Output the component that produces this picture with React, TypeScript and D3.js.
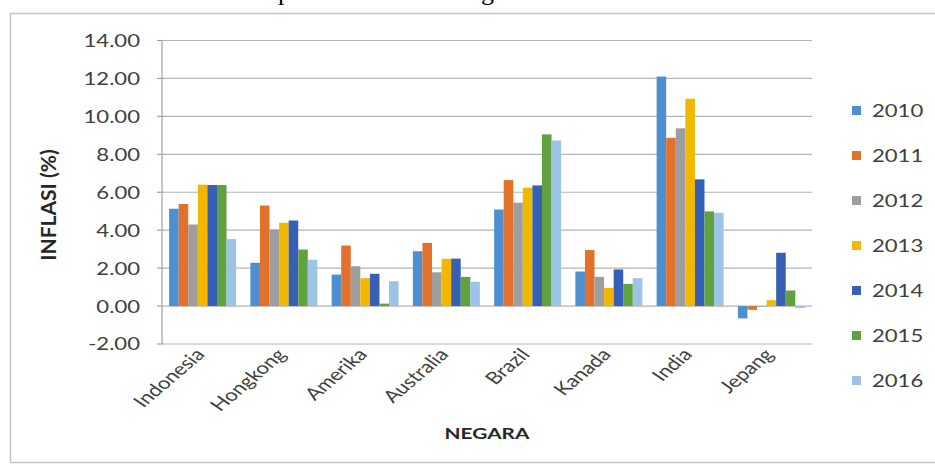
import React from "react";
import * as d3 from "d3";

const categories = ["Indonesia", "Hongkong", "Amerika", "Australia", "Brazil", "Kanada", "India", "Jepang"];
const years = ["2010", "2011", "2012", "2013", "2014", "2015", "2016"];
const v2010 = [5.13, 2.28, 1.66, 2.89, 5.09, 1.82, 12.1, -0.65];
const v2011 = [5.38, 5.3, 3.19, 3.33, 6.64, 2.95, 8.87, -0.2];
const v2012 = [4.3, 4.04, 2.1, 1.78, 5.45, 1.54, 9.37, -0.03];
const v2013 = [6.4, 4.39, 1.47, 2.49, 6.24, 0.96, 10.93, 0.31];
const v2014 = [6.38, 4.51, 1.7, 2.5, 6.36, 1.93, 6.68, 2.81];
const v2015 = [6.38, 2.98, 0.13, 1.54, 9.05, 1.17, 4.99, 0.82];
const v2016 = [3.53, 2.44, 1.31, 1.28, 8.73, 1.47, 4.92, -0.1];
const seriesValues = [v2010, v2011, v2012, v2013, v2014, v2015, v2016];
const colors = ["#4E8FD0", "#E2712C", "#9E9E9E", "#F2B800", "#3560B5", "#62A23E", "#9DC3E6"];
const yTicks = [-2, 0, 2, 4, 6, 8, 10, 12, 14];
const yTitle = "INFLASI (%)";
const xTitle = "NEGARA";

const W = 935;
const H = 469;
const SX = 1.3;
const FONT = "Lato, 'Open Sans', sans-serif";
const M = { left: 162, right: 812, top: 40.5, bottom: 344 };

export default function App() {
  const x0 = d3.scaleBand().domain(categories).range([M.left, M.right]).padding(0);
  const x1 = d3.scaleBand().domain(years).range([0, x0.bandwidth()]).paddingInner(0).paddingOuter(0.745);
  const y = d3.scaleLinear().domain([-2, 14]).range([M.bottom, M.top]);
  const legendY = d3.scalePoint().domain(years).range([110.5, 380.5]);

  return (
    <svg width={W} height={H} style={{ position: "absolute", left: 0, top: 0, background: "#fff" }} fontFamily={FONT}>
      <rect x={0} y={0} width={W} height={H} fill="#fff" />
      <text x={278} y={0} fontFamily="'Liberation Serif', serif" fontSize={26} fill="#000">p</text>
      <text x={481} y={0} fontFamily="'Liberation Serif', serif" fontSize={26} fill="#000">g</text>
      <rect x={10.5} y={13.5} width={1000} height={449} fill="#fff" stroke="#c4c4c4" strokeWidth={1.5} />
      {/* gridlines */}
      {yTicks.map((t) => (
        <line key={t} x1={M.left} x2={M.right} y1={y(t)} y2={y(t)} stroke="#b4b4b4" strokeWidth={1.2} />
      ))}
      {/* y axis line and ticks */}
      <line x1={M.left} x2={M.left} y1={M.top} y2={M.bottom} stroke="#a0a0a0" strokeWidth={1.2} />
      {yTicks.map((t) => (
        <line key={"tk" + t} x1={M.left - 5} x2={M.left} y1={y(t)} y2={y(t)} stroke="#a0a0a0" strokeWidth={1.2} />
      ))}
      {yTicks.map((t) => (
        <text key={"tl" + t} transform={`translate(140,${y(t)}) scale(${SX},1)`} textAnchor="end" dominantBaseline="central" fontSize={17} fill="#404040">
          {t.toFixed(2)}
        </text>
      ))}
      {/* bars */}
      {categories.map((c, ci) => (
        <g key={c} transform={`translate(${x0(c)},0)`}>
          {years.map((yr, si) => {
            const v = seriesValues[si][ci];
            return (
              <rect key={yr} x={x1(yr)} width={x1.bandwidth()} y={Math.min(y(v), y(0))} height={Math.abs(y(v) - y(0))} fill={colors[si]} />
            );
          })}
        </g>
      ))}
      {/* category labels */}
      {categories.map((c) => (
        <text key={"cl" + c} transform={`translate(${x0(c) + x0.bandwidth() / 2 - 3},${M.bottom + 7}) scale(${SX},1) rotate(-48)`} textAnchor="end" dominantBaseline="central" fontSize={17} fill="#404040">
          {c}
        </text>
      ))}
      {/* axis titles */}
      <text transform={`translate(47,205) rotate(-90)`} textAnchor="middle" dominantBaseline="central" fontSize={21} fontWeight="bold" fill="#262626">
        {yTitle}
      </text>
      <text transform={`translate(${(M.left + M.right) / 2},433) scale(${SX},1)`} textAnchor="middle" dominantBaseline="central" fontSize={16} fontWeight="bold" fill="#262626">
        {xTitle}
      </text>
      {/* legend */}
      {years.map((yr, si) => (
        <g key={"lg" + yr} transform={`translate(852,${legendY(yr)})`}>
          <rect x={0} y={-4.5} width={9} height={9} fill={colors[si]} />
          <text transform={`translate(20,0) scale(${SX},1)`} dominantBaseline="central" fontSize={17} fill="#404040">
            {yr}
          </text>
        </g>
      ))}
    </svg>
  );
}
